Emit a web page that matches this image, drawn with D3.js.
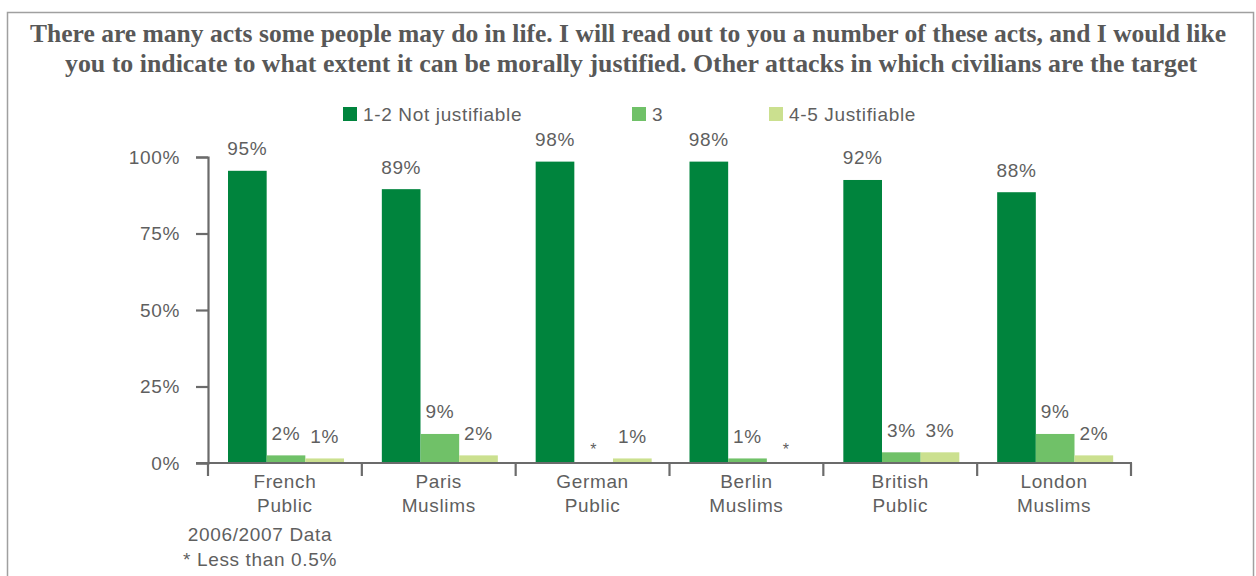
<!DOCTYPE html>
<html>
<head>
<meta charset="utf-8">
<script src="https://cdn.jsdelivr.net/npm/d3@7"></script>
<style>
  html, body { margin: 0; padding: 0; background: #fff; }
  svg { display: block; }
  .sans { font-family: "Liberation Sans", Arial, Helvetica, sans-serif; letter-spacing: 0.65px; }
</style>
</head>
<body>
<svg id="chart" width="1256" height="576"></svg>
<script>
// ---- Data ----
const titleLines = [
  "There are many acts some people may do in life. I will read out to you a number of these acts, and I would like",
  "you to indicate to what extent it can be morally justified.  Other attacks in which civilians are the target"
];
const categories = [["French", "Public"], ["Paris", "Muslims"], ["German", "Public"], ["Berlin", "Muslims"], ["British", "Public"], ["London", "Muslims"]];
const seriesNames = ["1-2 Not justifiable", "3", "4-5 Justifiable"];
const notJustifiable = [95, 89, 98, 98, 92, 88];
const neutral3 = [2, 9, 0, 1, 3, 9];
const justifiable = [1, 2, 1, 0, 3, 2];
const yTicks = [0, 25, 50, 75, 100];
const footnotes = ["2006/2007 Data", "* Less than 0.5%"];

const colors = ["#00843d", "#70c168", "#cbe08f"];
const textColor = "#5f5f5f";
const axisColor = "#6b6b6b";

const svg = d3.select("#chart");

// Border
svg.append("rect")
  .attr("x", 7.5).attr("y", 12.5).attr("width", 1246).attr("height", 620)
  .attr("fill", "none").attr("stroke", "#a0a0a0").attr("stroke-width", 1.5);

// Title
const titleLayout = [{x1: 30, x2: 1226, y: 42}, {x1: 65, x2: 1197, y: 72}];
titleLines.forEach((t, i) => {
  const L = titleLayout[i];
  svg.append("text")
    .attr("x", (L.x1 + L.x2) / 2).attr("y", L.y)
    .attr("text-anchor", "middle")
    .attr("textLength", L.x2 - L.x1)
    .attr("lengthAdjust", "spacingAndGlyphs")
    .attr("font-family", "'Liberation Serif', 'Times New Roman', serif")
    .attr("font-weight", "bold")
    .attr("font-size", 25)
    .attr("fill", "#585858")
    .text(t);
});

// Legend
const legendX = [343, 632, 769];
seriesNames.forEach((s, i) => {
  const g = svg.append("g").attr("transform", `translate(${legendX[i]},107)`);
  g.append("rect").attr("width", 14).attr("height", 14).attr("fill", colors[i]);
  g.append("text").attr("class", "sans")
    .attr("x", 20).attr("y", 14)
    .attr("font-size", 19).attr("fill", textColor)
    .text(s);
});

// Scales
const plotLeft = 208, plotRight = 1131, plotTop = 157, plotBottom = 463;
const y = d3.scaleLinear().domain([0, 100]).range([plotBottom, plotTop]);
const catKeys = categories.map(c => c.join(" "));
const x0 = d3.scaleBand().domain(catKeys).range([plotLeft, plotRight]).padding(0);
const x1 = d3.scaleBand().domain(seriesNames).range([20, 136]).padding(0);

// Y axis
const yAxis = d3.axisLeft(y).tickValues(yTicks).tickFormat(d => d + "%").tickSize(12).tickPadding(16);
const yg = svg.append("g").attr("transform", `translate(${plotLeft},0)`).call(yAxis);
yg.select(".domain").attr("stroke", axisColor).attr("stroke-width", 2.2);
yg.selectAll(".tick line").attr("stroke", axisColor).attr("stroke-width", 2.2);
yg.selectAll(".tick text").attr("class", "sans").attr("font-size", 19).attr("fill", textColor)
  .attr("font-family", null);

// X axis (line + category separator ticks)
const xAxisG = svg.append("g");
xAxisG.append("line")
  .attr("x1", plotLeft - 12).attr("x2", plotRight + 1)
  .attr("y1", plotBottom).attr("y2", plotBottom)
  .attr("stroke", axisColor).attr("stroke-width", 2.2);
const sepPositions = catKeys.map(k => x0(k)).concat([x0(catKeys[catKeys.length - 1]) + x0.bandwidth()]);
xAxisG.selectAll("line.sep").data(sepPositions).join("line")
  .attr("class", "sep")
  .attr("x1", d => d).attr("x2", d => d)
  .attr("y1", plotBottom).attr("y2", plotBottom + 13)
  .attr("stroke", axisColor).attr("stroke-width", 2.2);

// Category labels
categories.forEach((c, i) => {
  const cx = x0(catKeys[i]) + x0.bandwidth() / 2;
  c.forEach((line, j) => {
    svg.append("text").attr("class", "sans")
      .attr("x", cx).attr("y", 488 + j * 24)
      .attr("text-anchor", "middle")
      .attr("font-size", 19).attr("fill", textColor)
      .text(line);
  });
});

// Bars
const seriesValues = [notJustifiable, neutral3, justifiable];
const rows = [];
catKeys.forEach((k, i) => {
  seriesNames.forEach((s, j) => {
    rows.push({cat: k, series: s, si: j, value: seriesValues[j][i]});
  });
});

svg.append("g").selectAll("rect").data(rows.filter(d => d.value > 0)).join("rect")
  .attr("x", d => x0(d.cat) + x1(d.series))
  .attr("width", x1.bandwidth())
  .attr("y", d => y(d.value) - 1.5)
  .attr("height", d => y(0) - y(d.value) + 0.5)
  .attr("fill", d => colors[d.si]);

// Value labels
svg.append("g").selectAll("text").data(rows).join("text")
  .attr("class", "sans")
  .attr("x", d => x0(d.cat) + x1(d.series) + x1.bandwidth() / 2)
  .attr("y", d => d.value === 0 ? y(0) - 8 : y(d.value) - 17)
  .attr("text-anchor", "middle")
  .attr("font-size", d => d.value === 0 ? 16 : 19)
  .attr("fill", textColor)
  .text(d => d.value === 0 ? "*" : d.value + "%");

// Footnotes
footnotes.forEach((f, i) => {
  svg.append("text").attr("class", "sans")
    .attr("x", 260).attr("y", 541 + i * 25)
    .attr("text-anchor", "middle")
    .attr("font-size", 19).attr("fill", textColor)
    .text(f);
});
</script>
</body>
</html>
